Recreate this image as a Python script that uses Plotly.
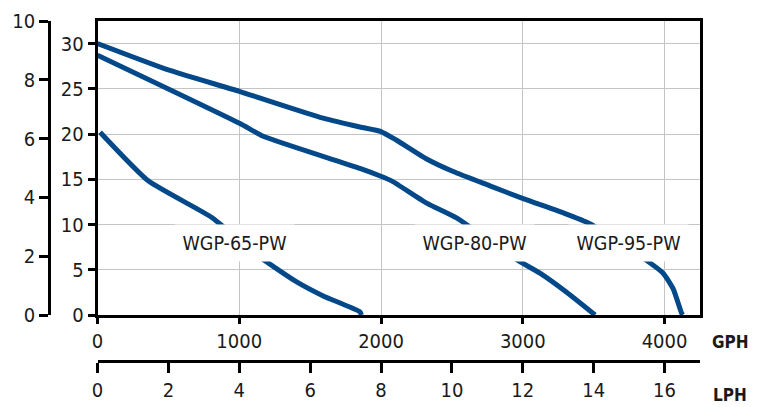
import plotly.graph_objects as go

# ---- data (GPH vs head in feet) ----
wgp65_gph = [18, 358, 811, 1132, 1405, 1592, 1851, 1862]
wgp65_ft = [20.2, 14.83, 10.73, 6.55, 3.66, 2.11, 0.35, 0.0]

wgp80_gph = [0, 1005, 1169, 1851, 1999, 2075, 2322, 2533, 2944, 3121, 3309, 3510]
wgp80_ft = [28.72, 21.17, 19.76, 16.21, 15.34, 14.83, 12.37, 10.73, 6.22, 4.62, 2.51, 0.0]

wgp95_gph = [0, 488, 1005, 1592, 1851, 1999, 2110, 2322, 2509, 2768, 3003, 3285, 3473,
             3849, 3990, 4061, 4120, 4128]
wgp95_ft = [30.0, 27.15, 24.7, 21.76, 20.78, 20.28, 19.32, 17.25, 15.86, 14.28, 12.86, 11.3, 10.1,
            6.30, 4.62, 2.89, 0.2, 0.0]

series_names = ["WGP-65-PW", "WGP-80-PW", "WGP-95-PW"]
label_gph = [965, 2662, 3748]
label_ft = [7.96, 7.96, 7.96]

gph_ticks = [0, 1000, 2000, 3000, 4000]
ft_ticks = [0, 5, 10, 15, 20, 25, 30]
m_ticks = [0, 2, 4, 6, 8, 10]
lph_ticks = [0, 2, 4, 6, 8, 10, 12, 14, 16]

BLUE = "#03498a"
FONT = "DejaVu Sans Condensed, DejaVu Sans, sans-serif"
TXT = "#1a1a1a"

fig = go.Figure()
for gx, fy in [(wgp65_gph, wgp65_ft), (wgp80_gph, wgp80_ft), (wgp95_gph, wgp95_ft)]:
    fig.add_trace(go.Scatter(x=gx, y=fy, mode="lines",
                             line=dict(color=BLUE, width=5, shape="spline", smoothing=0.5),
                             showlegend=False, hoverinfo="skip"))

# dummy traces so the secondary axes are drawn
fig.add_trace(go.Scatter(x=lph_ticks, y=[None] * len(lph_ticks), xaxis="x2", yaxis="y",
                         mode="lines", showlegend=False, hoverinfo="skip"))
fig.add_trace(go.Scatter(x=[None] * len(m_ticks), y=m_ticks, xaxis="x", yaxis="y2",
                         mode="lines", showlegend=False, hoverinfo="skip"))

W, H = 765, 407
L, R, T, B = 49, 65, 21, 46
pw, ph = W - L - R, H - T - B
x0 = (97.5 - L) / pw
y0 = (H - B - 315) / ph

tickfont = dict(family=FONT, size=20, color=TXT)

fig.update_layout(
    width=W, height=H,
    margin=dict(l=L, r=R, t=T, b=B),
    paper_bgcolor="white", plot_bgcolor="white",
    showlegend=False,
    xaxis=dict(domain=[x0, 1], range=[0, 4250], tickvals=gph_ticks,
               showgrid=True, gridcolor="#c4c4c4", gridwidth=1.2,
               showline=True, linecolor="black", linewidth=2.5, mirror=True,
               ticks="outside", ticklen=6, tickwidth=2.5, tickcolor="black",
               tickfont=tickfont, zeroline=False, automargin=False, anchor="y"),
    xaxis2=dict(overlaying="x", anchor="free", position=0, side="bottom",
                range=[0, 17], tickvals=lph_ticks, showgrid=False,
                showline=True, linecolor="black", linewidth=2.5,
                ticks="outside", ticklen=10, tickwidth=2.5, tickcolor="black",
                tickfont=tickfont, zeroline=False, automargin=False),
    yaxis=dict(domain=[y0, 1], range=[0, 32.5], tickvals=ft_ticks,
               showgrid=True, gridcolor="#c4c4c4", gridwidth=1.2,
               showline=True, linecolor="black", linewidth=2.5, mirror=True,
               ticks="outside", ticklen=7, tickwidth=2.5, tickcolor="black",
               tickfont=tickfont, zeroline=False, automargin=False, anchor="x"),
    yaxis2=dict(overlaying="y", anchor="free", position=0, side="left",
                range=[0, 10], tickvals=m_ticks, showgrid=False,
                showline=True, linecolor="black", linewidth=2.5,
                ticks="outside", ticklen=9, tickwidth=2.5, tickcolor="black",
                tickfont=tickfont, zeroline=False, automargin=False),
)

for name, gx, fy in zip(series_names, label_gph, label_ft):
    fig.add_annotation(x=gx, y=fy, xref="x", yref="y", text=name, showarrow=False,
                       font=dict(family=FONT, size=19.5, color=TXT),
                       bgcolor="white", width=113, height=30, borderpad=3)

for txt, ypx in [("GPH", 341.5), ("LPH", 395)]:
    fig.add_annotation(x=(730 - L) / pw, y=(H - B - ypx) / ph, xref="paper", yref="paper",
                       text="<b>" + txt + "</b>", showarrow=False,
                       xanchor="center", yanchor="middle",
                       font=dict(family=FONT, size=17, color=TXT))

fig.write_html("out.html", config={"displayModeBar": False},
               post_script="document.body.style.margin='0';")
